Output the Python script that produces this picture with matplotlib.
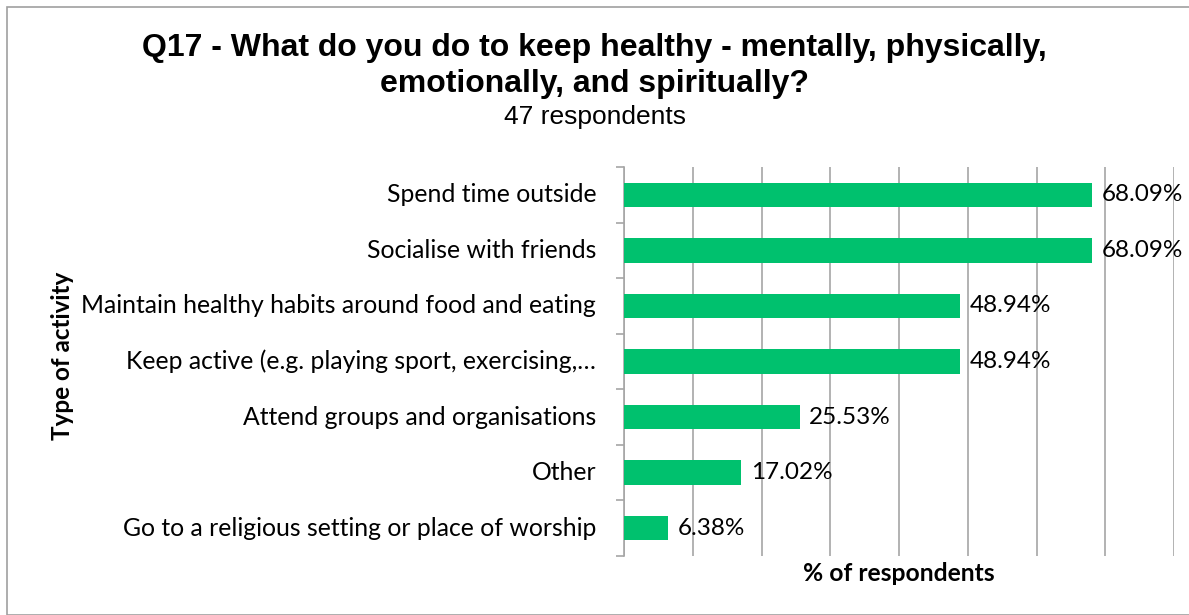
import numpy as np
import matplotlib.pyplot as plt
from matplotlib.patches import Rectangle

activities = [
    "Spend time outside",
    "Socialise with friends",
    "Maintain healthy habits around food and eating",
    "Keep active (e.g. playing sport, exercising,\u2026",
    "Attend groups and organisations",
    "Other",
    "Go to a religious setting or place of worship",
]
pct = [68.09, 68.09, 48.94, 48.94, 25.53, 17.02, 6.38]
value_labels = ["68.09%", "68.09%", "48.94%", "48.94%", "25.53%", "17.02%", "6.38%"]

bar_color = "#00C16E"
grid_color = "#A6A6A6"
label_font = ["Lato", "DejaVu Sans"]

fig = plt.figure(figsize=(11.89, 6.15), dpi=100)
ax = fig.add_axes([624 / 1189, 1 - 556 / 615, 550 / 1189, 389 / 615])

y = np.arange(len(activities))
ax.barh(y, pct, height=0.44, color=bar_color, zorder=3)
ax.set_xlim(0, 80)
ax.set_ylim(len(activities) - 0.5, -0.5)

ax.set_xticks(np.arange(0, 81, 10))
ax.xaxis.grid(True, color=grid_color, linewidth=1.2, zorder=0)
ax.tick_params(axis="x", length=0, labelbottom=False)

# category labels placed by hand so tick marks can sit between bars
ax.set_yticks(np.arange(-0.5, len(activities), 1))
ax.set_yticklabels([])
ax.tick_params(axis="y", length=6, width=1.2, color=grid_color, direction="out")
for yi, name in zip(y, activities):
    ax.annotate(name, (0, yi), xytext=(-20, 0), textcoords="offset points",
                ha="right", va="center", fontsize=17.8, family=label_font)

for yi, v, lab in zip(y, pct, value_labels):
    ax.annotate(lab, (v, yi), xytext=(7, 0), textcoords="offset points",
                ha="left", va="center", fontsize=17.5, family=label_font)

for side in ["top", "right", "bottom"]:
    ax.spines[side].set_visible(False)
ax.spines["left"].set_color(grid_color)
ax.spines["left"].set_linewidth(1.2)

ax.set_xlabel("% of respondents", fontsize=17.7, fontweight="bold", family=label_font, labelpad=4)
fig.text(62 / 1189, 1 - 356 / 615, "Type of activity", rotation=90, ha="center", va="center",
         fontsize=17.5, fontweight="bold", family=label_font)

fig.text(0.5, 1 - 48 / 615, "Q17 - What do you do to keep healthy - mentally, physically,",
         ha="center", va="center", fontsize=23, fontweight="bold", family="Liberation Sans")
fig.text(0.5, 1 - 84 / 615, "emotionally, and spiritually?",
         ha="center", va="center", fontsize=23, fontweight="bold", family="Liberation Sans")
fig.text(0.5, 1 - 117 / 615, "47 respondents",
         ha="center", va="center", fontsize=19, family="Liberation Sans")

fig.patches.append(Rectangle((7 / 1189, 0), 1, 1 - 7 / 615, transform=fig.transFigure,
                             fill=False, edgecolor="#A0A0A0", linewidth=1.2))

fig.savefig("out.png", dpi=100)
